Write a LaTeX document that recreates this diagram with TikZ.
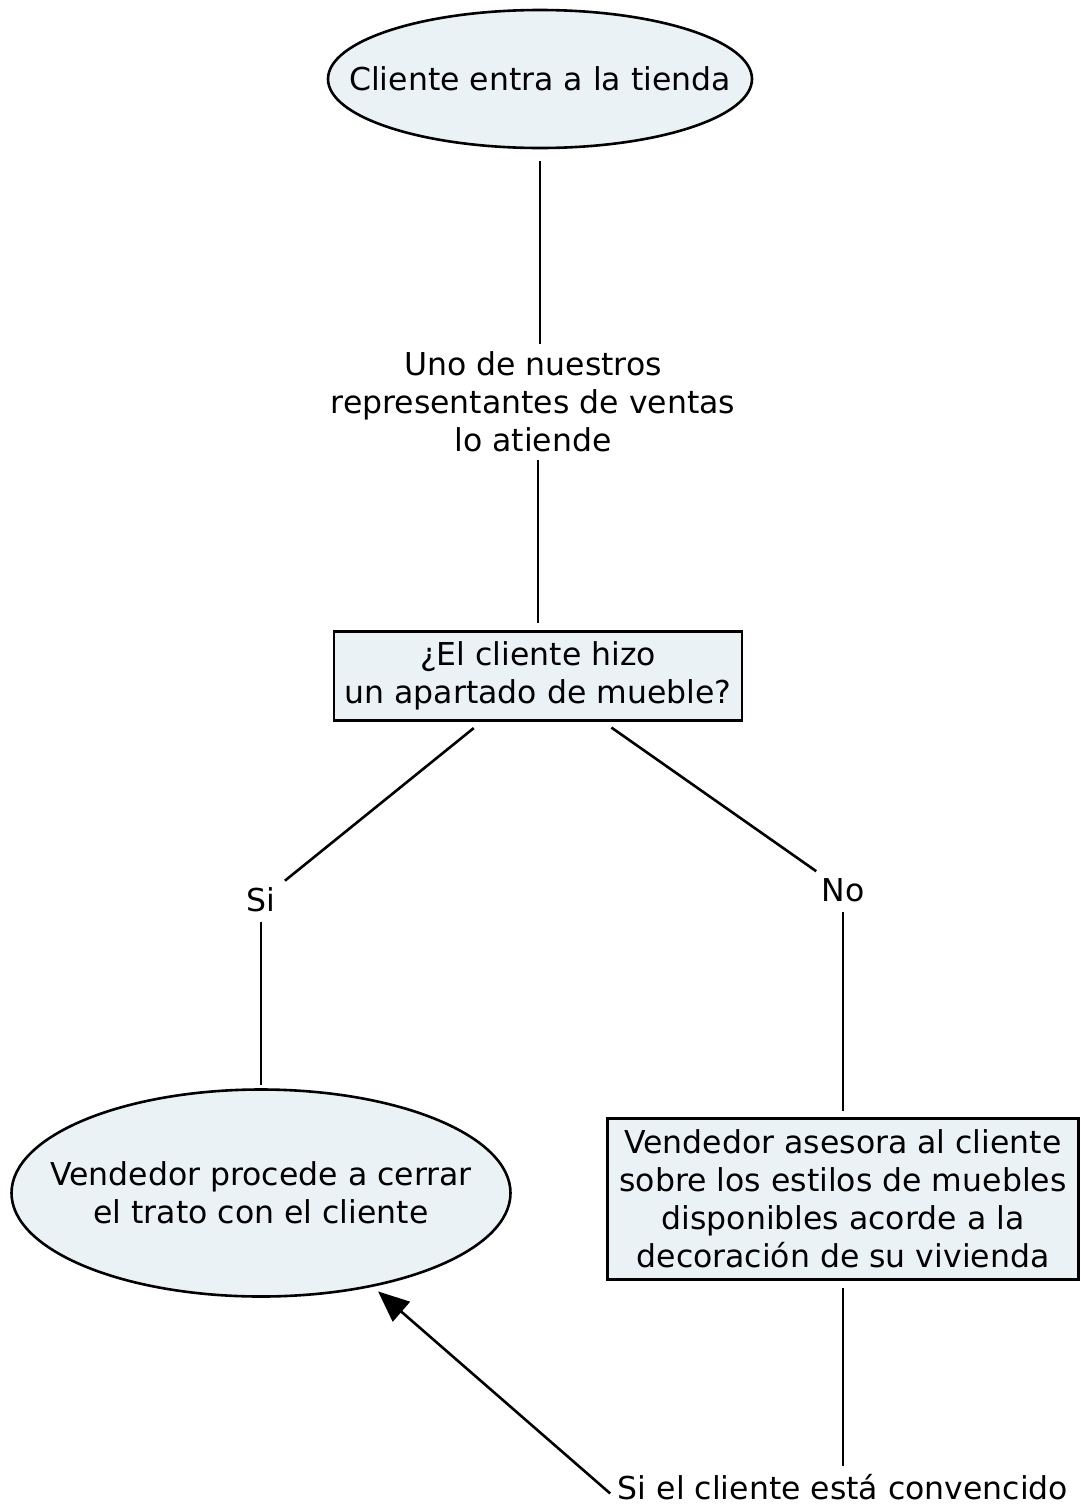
\documentclass[tikz,border=0pt]{standalone}
\usepackage{fontspec}
\setmainfont{DejaVu Sans}
\usetikzlibrary{shapes.geometric,arrows.meta}
\definecolor{nodefill}{RGB}{234,242,245}
\begin{document}
\begin{tikzpicture}[x=1pt,y=-1pt,
  txt/.style={font=\fontsize{31.5}{38}\selectfont, align=center, inner sep=0pt},
  oval/.style={ellipse, draw, line width=2.6pt, fill=nodefill, inner sep=0pt},
  rectbox/.style={rectangle, draw, line width=2.6pt, fill=nodefill, inner sep=0pt, txt},
  lbl/.style={txt},
  link/.style={line width=2.6pt},
  arrowlink/.style={link, -{Triangle[length=31pt,width=26pt]}},
]
\useasboundingbox (0,0) rectangle (1080,1505);

% nodes
\node[oval, minimum width=424pt, minimum height=138pt,
      label={[txt]center:Cliente entra a la tienda}] (start) at (540,79) {};
\node[lbl] (rep) at (533,402) {Uno de nuestros\\representantes de ventas\\lo atiende};
\node[rectbox, minimum width=408pt, minimum height=89pt] (q) at (538,676)
  {¿El cliente hizo\\un apartado de mueble?};
\node[lbl] (si) at (261,900) {Si};
\node[lbl] (no) at (843,890) {No};
\node[oval, minimum width=499pt, minimum height=207pt,
      label={[txt]center:Vendedor procede a cerrar\\el trato con el cliente}] (close) at (261,1193) {};
\node[rectbox, minimum width=471pt, minimum height=161pt] (advise) at (843,1199)
  {Vendedor asesora al cliente\\sobre los estilos de muebles\\disponibles acorde a la\\decoración de su vivienda};
\node[lbl] (conv) at (843,1487) {Si el cliente está convencido};

% connectors
\draw[link, shorten <=12pt, shorten >=8pt] (start.south) -- (start.south |- rep.north);
\draw[link, shorten <=8pt, shorten >=7pt] (rep.south -| q.north) -- (q.north);
\draw[link, shorten <=10pt, shorten >=12pt] (q) -- (si);
\draw[link, shorten <=10pt, shorten >=12pt] (q) -- (no);
\draw[link, shorten <=10pt, shorten >=3pt] (si) -- (close);
\draw[link, shorten <=10pt, shorten >=6pt] (no) -- (advise);
\draw[link, shorten <=7pt, shorten >=8pt] (advise) -- (conv);
\draw[arrowlink, shorten <=10pt, shorten >=7pt] (conv.south west) -- (close.-40);
\end{tikzpicture}
\end{document}
